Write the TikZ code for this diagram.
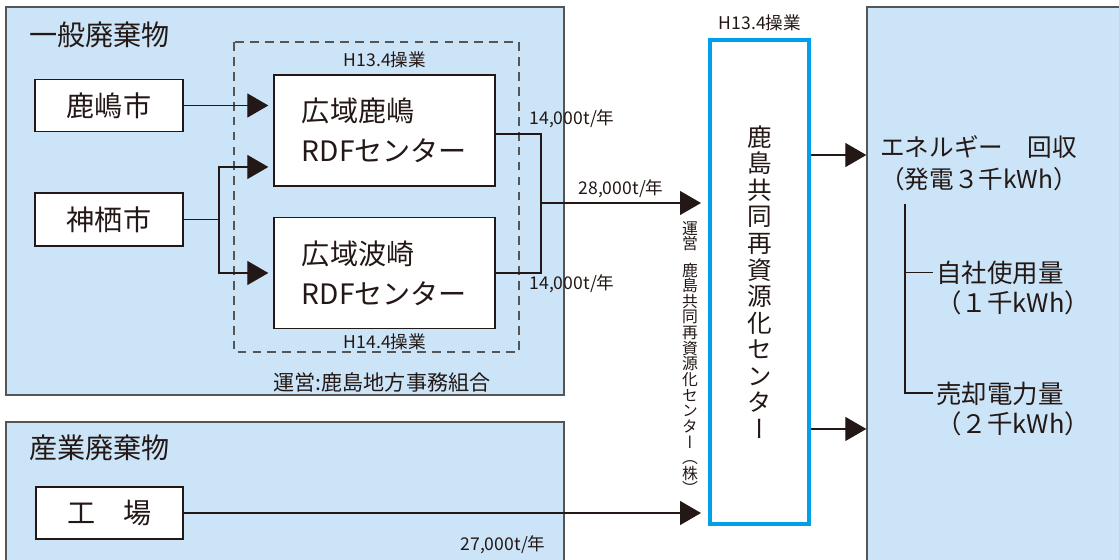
\documentclass[tikz,border=0pt]{standalone}
\usepackage{fontspec}
\setmainfont{Noto Sans CJK JP}
\newfontfamily\jpvert[RawFeature=+vert]{Noto Sans CJK JP}
\usepackage{tikz}
\usetikzlibrary{arrows.meta,positioning,calc}
\definecolor{ink}{HTML}{231815}
\definecolor{panelblue}{HTML}{CCE4F7}
\definecolor{framegray}{HTML}{555555}
\definecolor{cyanline}{HTML}{00A0E9}

\begin{document}
\begin{tikzpicture}[x=0.02cm,y=-0.02cm,
	panel/.style={draw=framegray,line width=0.8pt,fill=panelblue,inner sep=0pt},
	whitebox/.style={draw=ink,line width=0.8pt,fill=white,text=ink,inner sep=0pt},
	conn/.style={draw=ink,line width=0.75pt},
	arr/.style={conn,-{Triangle[length=0.42cm,width=0.48cm]}},
	small/.style={text=ink,inner sep=0pt,font=\fontsize{10}{12}\selectfont},
	big/.style={text=ink,inner sep=0pt,font=\fontsize{16}{19}\selectfont}]
	\useasboundingbox (0,0) rectangle (1119,560);

	\node[panel,minimum width=11.16cm,minimum height=7.76cm] (ippan) at (285,201) {};
	\node[panel,minimum width=11.16cm,minimum height=2.88cm] (sangyo) at (285,494) {};
	\node[panel,minimum width=5.16cm,minimum height=11.18cm] (energy) at (996,286.5) {};
		\node[big,anchor=west] (ippanlabel) at (29,35) {一般廃棄物};
		\node[big,anchor=west] (sangyolabel) at (29,448) {産業廃棄物};

	\draw[draw=framegray,line width=0.6pt,dash pattern=on 5pt off 3.5pt] (234,42) rectangle (519,352);

	\node[whitebox,big,minimum width=2.96cm,minimum height=1.04cm] (kashima) at (109,105.5) {鹿嶋市};
	\node[whitebox,big,minimum width=2.96cm,minimum height=1.06cm] (kamisu) at (109,219.5) {神栖市};
	\node[whitebox,big,align=left,minimum width=4.42cm,minimum height=2.22cm,font=\fontsize{16}{22.8}\selectfont] (rdfA) at (384.5,130.5) {広域鹿嶋\\RDFセンター};
	\node[whitebox,big,align=left,minimum width=4.42cm,minimum height=2.22cm,font=\fontsize{16}{22.8}\selectfont] (rdfB) at (384.5,273) {広域波崎\\RDFセンター};
	\node[whitebox,big,minimum width=2.94cm,minimum height=1.04cm] (kojo) at (109.5,513) {工　場};
	\node[draw=cyanline,line width=2.3pt,fill=white,text=ink,inner sep=0pt,minimum width=1.98cm,minimum height=9.68cm,align=center,font=\jpvert\fontsize{14}{15.1}\selectfont] (recycle) at (759.5,282) {鹿\\島\\共\\同\\再\\資\\源\\化\\セ\\ン\\タ\\ー};

		\node[small] (opA) at (385,60) {H13.4操業};
		\node[small] (opB) at (385,342) {H14.4操業};
		\node[small] (opC) at (760,23) {H13.4操業};
		\node[small,font=\fontsize{12}{14}\selectfont] (union) at (382,382) {運営:鹿島地方事務組合};
		\node[small] (flowA) at (572,119) {14,000t/年};
		\node[small] (flowB) at (572,284) {14,000t/年};
		\node[small] (flowAB) at (621,189) {28,000t/年};
		\node[small] (flowC) at (503,545) {27,000t/年};
		\node[small,anchor=north,align=center,font=\jpvert\fontsize{9}{8.9}\selectfont] (operator) at (690,221) {運\\営\\[6pt]鹿\\島\\共\\同\\再\\資\\源\\化\\セ\\ン\\タ\\ー\\（\\株\\）};

	\draw[arr,shorten >=0.1cm] (kashima.east) -- (kashima.east -| rdfA.west);
	\coordinate (split) at (219,219.5);
	\draw[conn] (kamisu.east) -- (split);
	\draw[arr,shorten >=0.1cm] (split) |- ([yshift=-0.73cm]rdfA.west);
	\draw[arr,shorten >=0.1cm] (split) |- (rdfB.west);

	\coordinate (merge) at (541,203);
	\draw[conn] ([yshift=-0.07cm]rdfA.east) -| (merge);
	\draw[conn] (rdfB.east) -| (merge);
	\draw[arr,shorten >=0.14cm] (merge) -- (merge -| recycle.west);
	\draw[arr,shorten >=0.14cm] (kojo.east) -- (kojo.east -| recycle.west);

	\coordinate (upout) at ([yshift=2.54cm]recycle.east);
	\coordinate (downout) at ([yshift=-2.94cm]recycle.east);
	\draw[arr] (upout) -- (upout -| energy.west);
	\draw[arr] (downout) -- (downout -| energy.west);

	\node[text=ink,inner sep=0pt,anchor=west,align=left,font=\fontsize{14}{18.2}\selectfont] (recovery) at (880,163) {エネルギー　回収\\（発電３千kWh）};
	\node[text=ink,inner sep=0pt,anchor=west,align=left,font=\fontsize{14.5}{17.6}\selectfont] (selfuse) at (936,288) {自社使用量\\（１千kWh）};
	\node[text=ink,inner sep=0pt,anchor=west,align=left,font=\fontsize{14.5}{17.6}\selectfont] (sold) at (936,409) {売却電力量\\（２千kWh）};
	\coordinate (treetop) at (905,204);
	\coordinate (usebranch) at ([xshift=-0.06cm,yshift=0.31cm]selfuse.west);
	\coordinate (soldbranch) at ([xshift=-0.06cm,yshift=0.32cm]sold.west);
	\draw[conn] (treetop) |- (soldbranch);
	\draw[conn] (treetop |- usebranch) -- (usebranch);
\end{tikzpicture}
\end{document}
